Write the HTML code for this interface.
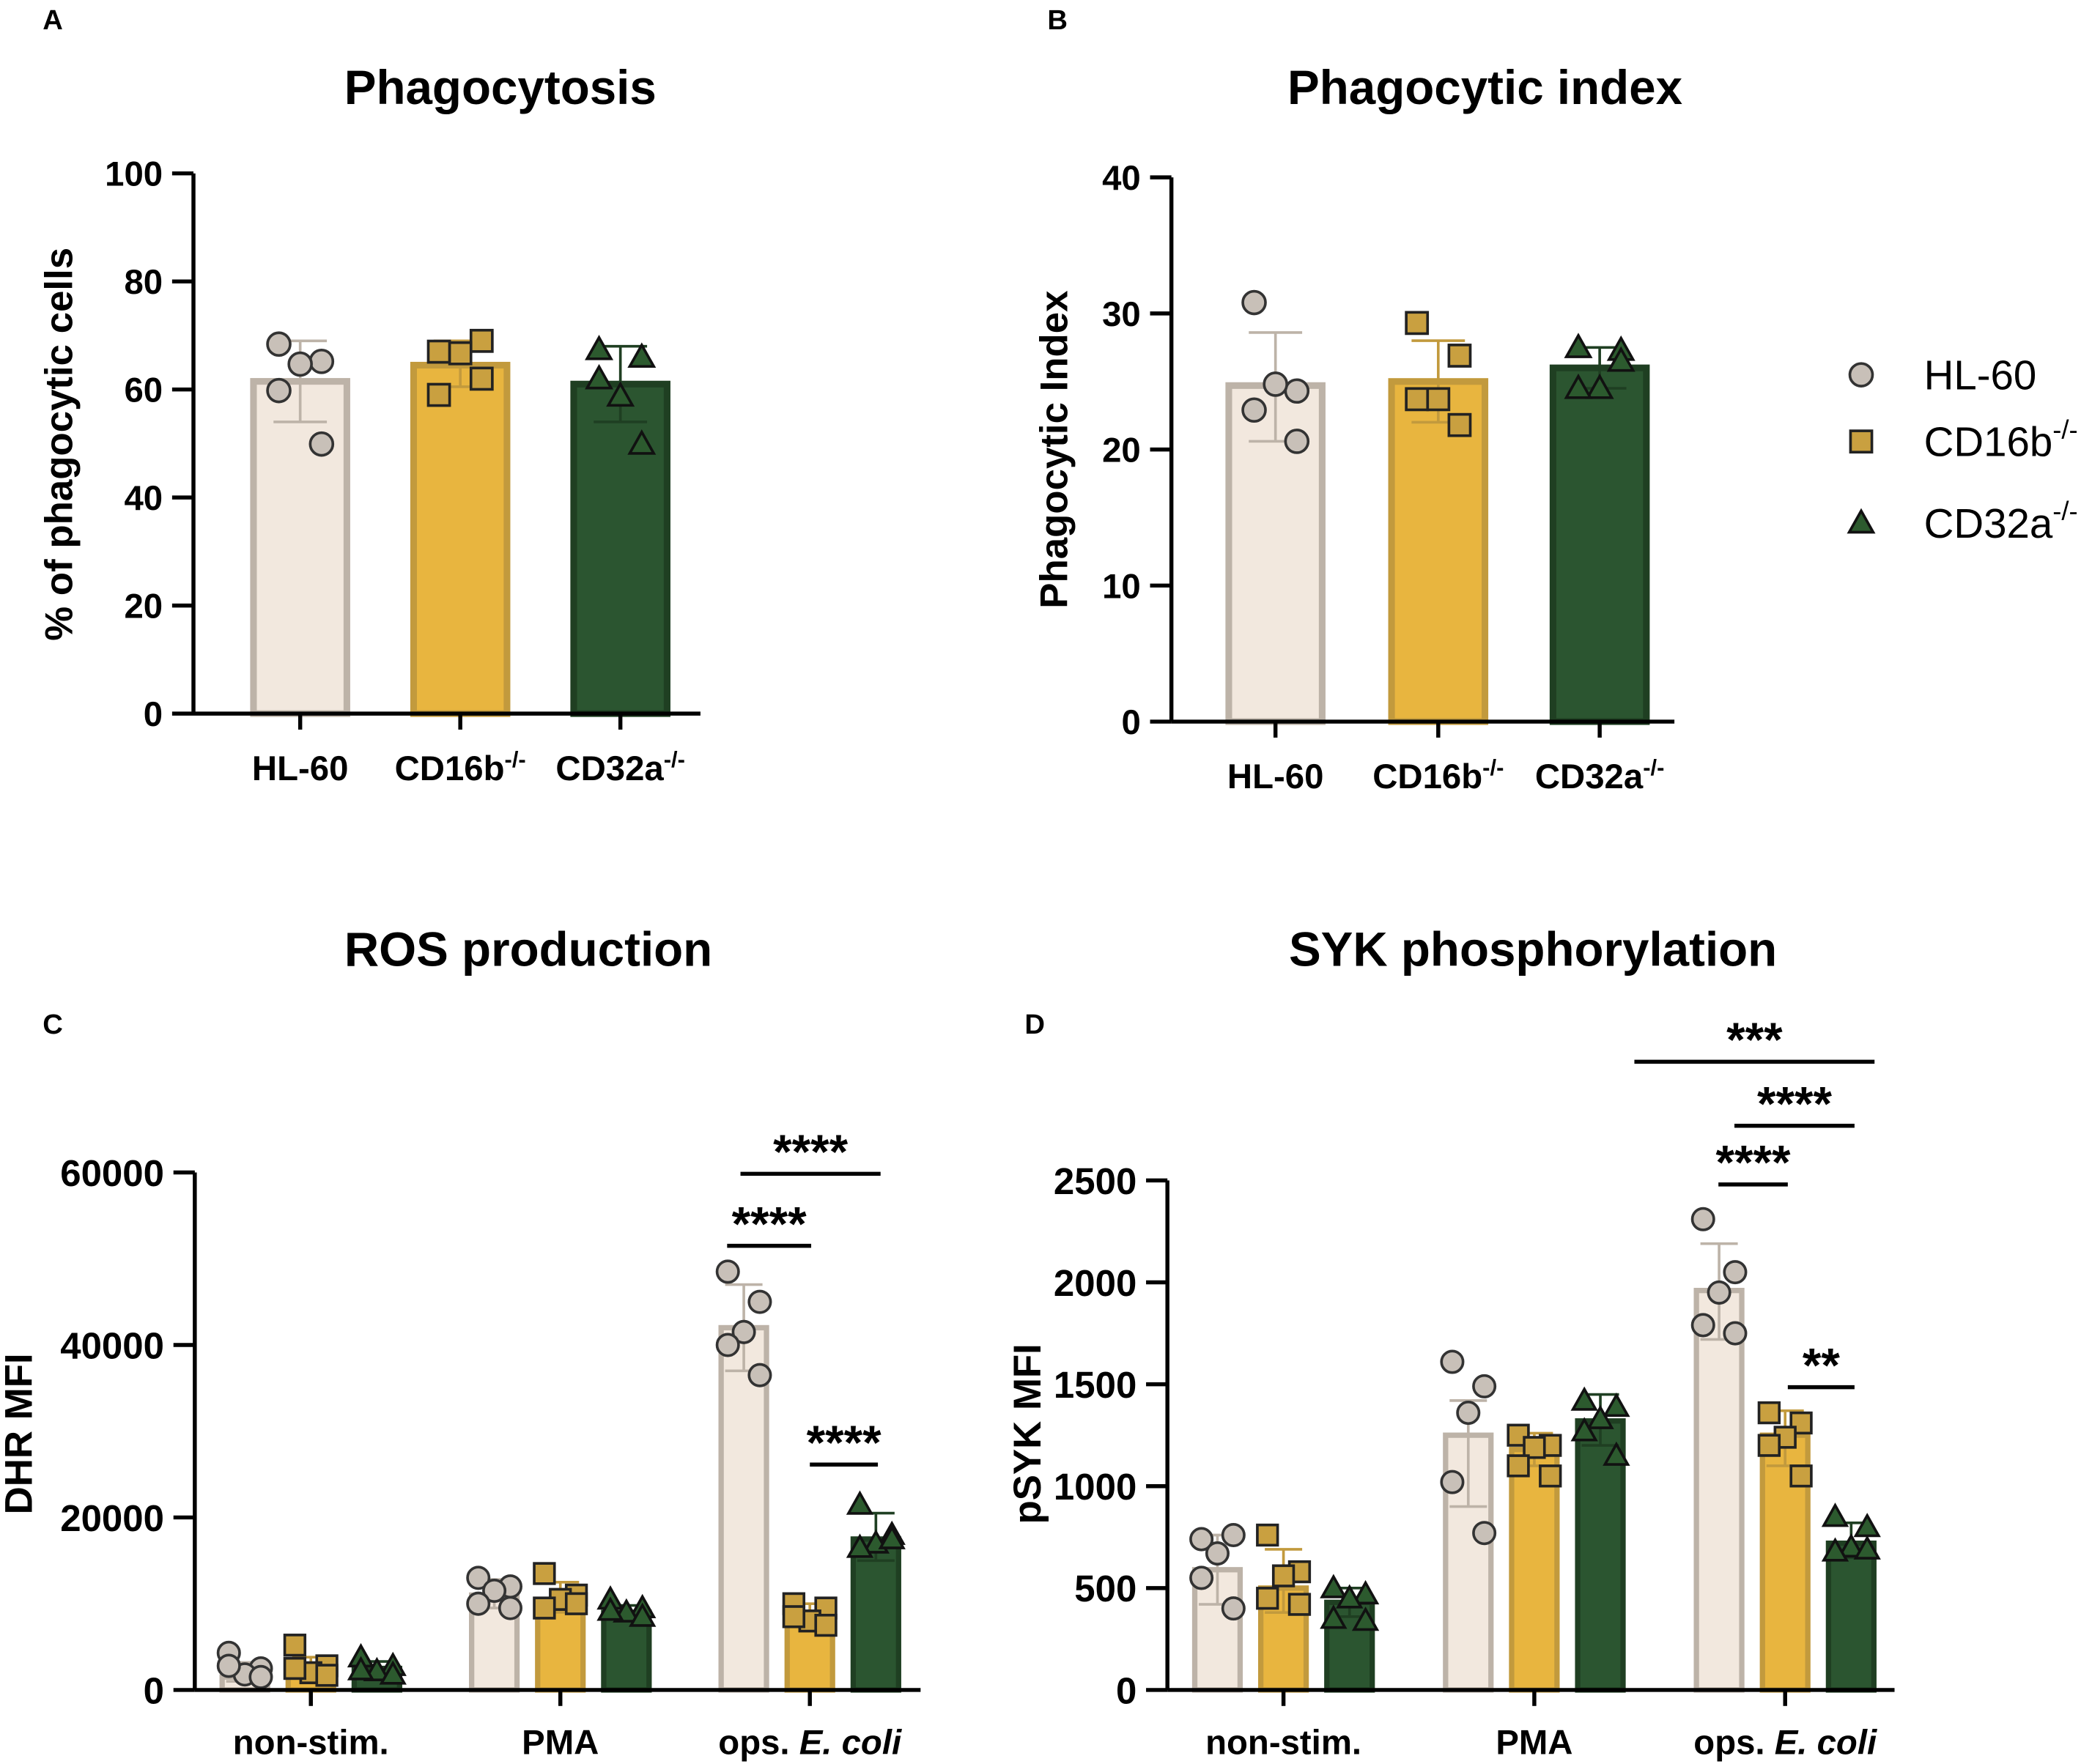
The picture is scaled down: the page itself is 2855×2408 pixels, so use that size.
<!DOCTYPE html>
<html><head><meta charset="utf-8"><style>
html,body{margin:0;padding:0;background:#fff}
svg{display:block}
text{font-family:"Liberation Sans",Arial,sans-serif}
</style></head><body>
<svg id="fig" width="2855" height="2408" viewBox="0 0 1568 1322.5" xmlns="http://www.w3.org/2000/svg">
</svg>
<script>
// ---------- DATA ----------
const groupsAB = ["HL-60","CD16b","CD32a"];
const aMeans = [61.5, 64.5, 61];
const aErrLo = [54, 60.5, 54];
const aErrHi = [69, 69, 68];
const aPoints = [[68.4,65.2,64.7,59.8,49.9],[67,69,66.7,59,62],[67.4,66,58.8,62,49.9]];
const aTicks = [0,20,40,60,80,100];

const bMeans = [24.7, 25, 26];
const bErrLo = [20.6, 22, 24.5];
const bErrHi = [28.6, 28, 27.5];
const bPoints = [[30.8,24.3,24.8,22.9,20.6],[29.3,26.9,23.7,23.7,21.8],[27.5,27.3,24.5,24.5,26.5]];
const bTicks = [0,10,20,30,40];

const cdCategories = ["non-stim.","PMA","ops. E. coli"];
const cMeans = [[1500,2500,2500],[11000,10500,9000],[42000,9000,17500]];
const cErrLo = [[1000,1500,1800],[9500,9000,8300],[37000,7800,15000]];
const cErrHi = [[3200,3800,3300],[12800,12500,9800],[47000,10000,20500]];
const cPoints = [[[4300,2500,1800,2800,1500],[5200,2800,2000,2500,1700],[3800,2800,2200,2300,1800]],
 [[13000,12000,11500,10000,9500],[13500,11000,10500,9500,10000],[10500,9500,9000,9200,8500]],
 [[48500,45000,41500,40000,36500],[10000,9500,8000,8500,7500],[21500,18000,17000,16500,17500]]];
const cTicks = [0,20000,40000,60000];

const dMeans = [[590,500,430],[1250,1180,1320],[1960,1250,720]];
const dErrLo = [[420,380,360],[900,1100,1200],[1720,1100,650]];
const dErrHi = [[760,690,500],[1420,1260,1450],[2190,1370,820]];
const dPoints = [[[740,760,670,550,400],[760,580,560,450,420],[500,470,450,350,340]],
 [[1610,1490,1360,1020,770],[1250,1200,1190,1100,1050],[1420,1390,1330,1270,1150]],
 [[2310,2050,1950,1790,1750],[1360,1310,1240,1200,1050],[850,800,700,680,690]]];
const dTicks = [0,500,1000,1500,2000,2500];

// ---------- STYLE ----------
const fills = ["#f2e8de","#e8b53f","#2b5530"];
const strokes = ["#bdb3a8","#c29a3d","#1f3f22"];
const mfill = ["#c8c0b8","#c9a040","#2c5a2e"];
const NS = "http://www.w3.org/2000/svg";
const svg = document.getElementById("fig");
function el(tag, attrs, parent){const e=document.createElementNS(NS,tag);for(const k in attrs)e.setAttribute(k,attrs[k]);(parent||svg).appendChild(e);return e;}
function txt(s, attrs, parent){const t=el("text",attrs,parent);t.textContent=s;return t;}
function jitter(i){return [-1,1,0,-1,1][i%5];}
function marker(g, k, x, y, s){
  let m;
  if(k===0) m=el("circle",{cx:x,cy:y,r:8.5*s,fill:mfill[0],stroke:"#333","stroke-width":2},g);
  else if(k===1) m=el("rect",{x:x-8*s,y:y-8*s,width:16*s,height:16*s,fill:mfill[1],stroke:"#222","stroke-width":2},g);
  else m=el("polygon",{points:`${x},${y-9*s} ${x+9*s},${y+7*s} ${x-9*s},${y+7*s}`,fill:mfill[2],stroke:"#111","stroke-width":2},g);
  
  
}
function yAxis(g, x0, yBot, yTop, ticks, max, fs){
  const sc=v=>yBot-(yBot-yTop)*v/max;
  el("line",{x1:x0,y1:yTop,x2:x0,y2:yBot,stroke:"#000","stroke-width":3},g);
  ticks.forEach(t=>{
    el("line",{x1:x0-16,y1:sc(t),x2:x0,y2:sc(t),stroke:"#000","stroke-width":3},g);
    const l=txt(String(t),{x:x0-23,y:sc(t)+fs*0.36,"text-anchor":"end","font-size":fs,"font-weight":"bold"},g);
    
    
  });
  return sc;
}
function errBar(g,x,lo,hi,col,hw){
  el("line",{x1:x,y1:lo,x2:x,y2:hi,stroke:col,"stroke-width":2},g);
  el("line",{x1:x-hw,y1:lo,x2:x+hw,y2:lo,stroke:col,"stroke-width":2},g);
  el("line",{x1:x-hw,y1:hi,x2:x+hw,y2:hi,stroke:col,"stroke-width":2},g);
}
function sig(g,x1,x2,y,label){
  el("line",{x1:x1,y1:y,x2:x2,y2:y,stroke:"#000","stroke-width":3},g);
  const t=txt(label,{x:(x1+x2)/2,y:y-4,"text-anchor":"middle","font-size":36,"font-weight":"bold"},g);
  
  
}

// ---------- Panel A/B ----------
function panelAB(name, letter, lx, title, tx, yTitle, ytx, ycy, x0, yBot, yTop, xEnd, centers, ticks, max, means, lo, hi, pts){
  const g=el("g",{});
  
  
  txt(letter,{x:lx,y:22,"font-size":21,"font-weight":"bold"},g);
  txt(title,{x:tx,y:78,"text-anchor":"middle","font-size":36,"font-weight":"bold"},g);
  txt(yTitle,{x:0,y:0,"text-anchor":"middle","font-size":29,"font-weight":"bold",transform:`translate(${ytx},${ycy}) rotate(-90)`},g);
  const sc=yAxis(g,x0,yBot,yTop,ticks,max,26);
  centers.forEach((c,k)=>{
    const b=el("rect",{x:c-35,y:sc(means[k]),width:70,height:yBot-sc(means[k]),fill:fills[k],stroke:strokes[k],"stroke-width":5},g);
    
    
    errBar(g,c,sc(lo[k]),sc(hi[k]),strokes[k],20);
    pts[k].forEach((v,i)=>marker(g,k,c+16*jitter(i),sc(v),1));
  });
  el("line",{x1:x0,y1:yBot,x2:xEnd,y2:yBot,stroke:"#000","stroke-width":3},g);
  const labs=[["HL-60",""],["CD16b","-/-"],["CD32a","-/-"]];
  centers.forEach((c,k)=>{
    el("line",{x1:c,y1:yBot,x2:c,y2:yBot+12,stroke:"#000","stroke-width":3},g);
    const t=txt("",{x:c,y:yBot+50,"text-anchor":"middle","font-size":26,"font-weight":"bold"},g);
    
    
    const a=el("tspan",{},t);a.textContent=labs[k][0];
    if(labs[k][1]){const s=el("tspan",{"font-size":17,dy:-10},t);s.textContent=labs[k][1];}
  });
}
panelAB("panel-a-phagocytosis","A",32,"Phagocytosis",375,"% of phagocytic cells",54,333,145,535,130,525,[225,345,465],aTicks,100,aMeans,aErrLo,aErrHi,aPoints);
panelAB("panel-b-phagocytic-index","B",785,"Phagocytic index",1113,"Phagocytic Index",800,337,878,541,133,1255,[956,1078,1199],bTicks,40,bMeans,bErrLo,bErrHi,bPoints);

// ---------- Legend ----------
const lg=el("g",{});


[["HL-60",""],["CD16b","-/-"],["CD32a","-/-"]].forEach((l,k)=>{
  const y=[281,331,392][k];
  marker(lg,k,1395,y,1);
  const t=txt("",{x:1442,y:y+11,"font-size":31},lg);
  
  
  const a=el("tspan",{},t);a.textContent=l[0];
  if(l[1]){const s=el("tspan",{"font-size":20,dy:-13},t);s.textContent=l[1];}
});

// ---------- Panel C/D ----------
function panelCD(name, letter, lx, title, tx, yTitle, ytx, ycy, x0, yBot, yTop, xEnd, groupCenters, ticks, max, means, lo, hi, pts, fs){
  const g=el("g",{});
  
  
  txt(letter,{x:lx,y:775,"font-size":21,"font-weight":"bold"},g);
  txt(title,{x:tx,y:724,"text-anchor":"middle","font-size":36,"font-weight":"bold"},g);
  txt(yTitle,{x:0,y:0,"text-anchor":"middle","font-size":29,"font-weight":"bold",transform:`translate(${ytx},${ycy}) rotate(-90)`},g);
  const sc=yAxis(g,x0,yBot,yTop,ticks,max,fs);
  groupCenters.forEach((gc,gi)=>{
    for(let k=0;k<3;k++){
      const c=gc+(k-1)*49.5;
      const b=el("rect",{x:c-17,y:sc(means[gi][k]),width:34,height:yBot-sc(means[gi][k]),fill:fills[k],stroke:strokes[k],"stroke-width":4},g);
      
      
      errBar(g,c,sc(lo[gi][k]),sc(hi[gi][k]),strokes[k],14);
      pts[gi][k].forEach((v,i)=>marker(g,k,c+12*jitter(i),sc(v),0.95));
    }
  });
  el("line",{x1:x0,y1:yBot,x2:xEnd,y2:yBot,stroke:"#000","stroke-width":3},g);
  groupCenters.forEach((gc,gi)=>{
    el("line",{x1:gc,y1:yBot,x2:gc,y2:yBot+12,stroke:"#000","stroke-width":3},g);
    const t=txt("",{x:gc,y:yBot+48,"text-anchor":"middle","font-size":26,"font-weight":"bold"},g);
    
    
    if(gi===2){const a=el("tspan",{},t);a.textContent="ops. ";const b=el("tspan",{"font-style":"italic"},t);b.textContent="E. coli";}
    else t.textContent=cdCategories[gi];
  });
  return g;
}
const gc=panelCD("panel-c-ros","C",32,"ROS production",396,"DHR MFI",24,1075,146,1267,879,690,[233,420,607],cTicks,60000,cMeans,cErrLo,cErrHi,cPoints,28);
sig(gc,555,660,880,"****");
sig(gc,545,608,934,"****");
sig(gc,607,658,1098,"****");
const gd=panelCD("panel-d-syk","D",768,"SYK phosphorylation",1149,"pSYK MFI",780,1075,875,1267,885,1420,[962,1150,1338],dTicks,2500,dMeans,dErrLo,dErrHi,dPoints,28);
sig(gd,1225,1405,796,"***");
sig(gd,1300,1390,844,"****");
sig(gd,1288,1340,888,"****");
sig(gd,1340,1390,1040,"**");
</script>
</body></html>
